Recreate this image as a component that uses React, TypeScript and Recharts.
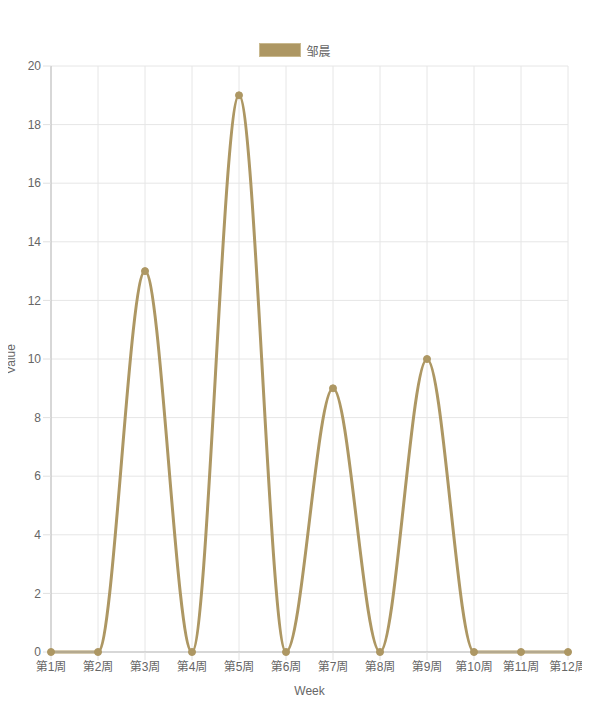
import React from 'react';
import { LineChart, Line, XAxis, YAxis, CartesianGrid } from 'recharts';

const weeks = ['第1周', '第2周', '第3周', '第4周', '第5周', '第6周', '第7周', '第8周', '第9周', '第10周', '第11周', '第12周'];
const seriesName = '邹晨';
const seriesValues = [0, 0, 13, 0, 19, 0, 9, 0, 10, 0, 0, 0];
const yTicks = [0, 2, 4, 6, 8, 10, 12, 14, 16, 18, 20];

const data = weeks.map((w, i) => ({ week: w, value: seriesValues[i] }));

const COLOR = '#ad9763';
const FONT = '"Liberation Sans", Arial, "Noto Sans CJK SC", sans-serif';

export default function App() {
  return (
    <div style={{ fontFamily: FONT, position: 'relative', width: 582, height: 689 }}>
      <style>{`.recharts-surface { overflow: visible; } .recharts-wrapper { overflow: visible; }`}</style>
      <div
        style={{
          position: 'absolute',
          top: 35,
          left: -8,
          width: 590,
          display: 'flex',
          justifyContent: 'center',
          alignItems: 'center',
          fontSize: 12,
          color: '#666',
          height: 14,
        }}
      >
        <span style={{ display: 'inline-block', width: 40, height: 12, background: COLOR, border: '1px solid #c9b98f', marginRight: 5 }} />
        <span>{seriesName}</span>
      </div>
      <LineChart width={582} height={689} data={data} margin={{ top: 58, right: 22, left: 0, bottom: 0 }}>
        <CartesianGrid stroke="#e6e6e6" />
        <XAxis
          dataKey="week"
          height={45}
          tickSize={8}
          tickMargin={2}
          interval={0}
          stroke="#bbb"
          tickLine={{ stroke: '#e0e0e0' }}
          tick={{ fill: '#666', fontSize: 12, fontFamily: FONT }}
          label={{
            content: (p: any) => {
              const vb = p.viewBox;
              return (
                <text x={vb.x + vb.width / 2} y={vb.y + 43} textAnchor="middle" fill="#666" fontSize={12} fontFamily={FONT}>
                  Week
                </text>
              );
            },
          }}
        />
        <YAxis
          width={43}
          domain={[0, 20]}
          ticks={yTicks}
          tickSize={8}
          tickMargin={2}
          stroke="#bbb"
          tickLine={{ stroke: '#e0e0e0' }}
          tick={{ fill: '#666', fontSize: 12, fontFamily: FONT }}
          label={{
            content: (p: any) => {
              const vb = p.viewBox;
              const x = 4;
              const y = vb.y + vb.height / 2;
              return (
                <text x={x} y={y} transform={`rotate(-90 ${x} ${y})`} textAnchor="middle" dominantBaseline="middle" fill="#666" fontSize={12} fontFamily={FONT}>
                  Value
                </text>
              );
            },
          }}
        />
        <Line
          type="monotone"
          dataKey="value"
          name={seriesName}
          stroke={COLOR}
          strokeWidth={3}
          dot={{ r: 3.5, fill: COLOR, stroke: COLOR, strokeWidth: 1 }}
          activeDot={false}
          isAnimationActive={false}
        />
      </LineChart>
    </div>
  );
}
